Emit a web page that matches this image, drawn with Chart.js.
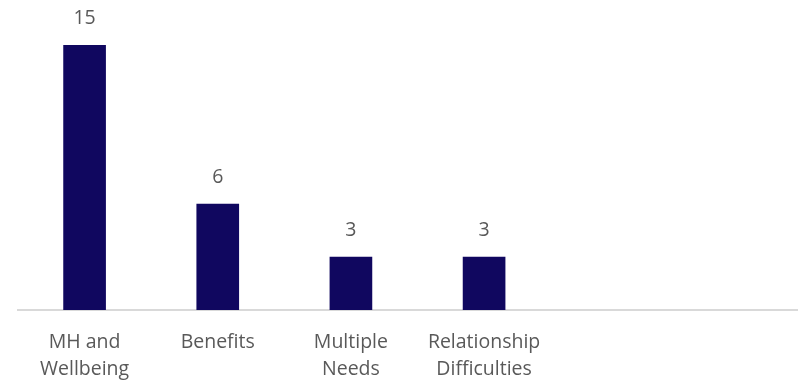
<!DOCTYPE html>
<html>
<head>
<meta charset="utf-8">
<script src="https://cdn.jsdelivr.net/npm/chart.js@4.4.0/dist/chart.umd.min.js"></script>
<style>
  html, body { margin: 0; padding: 0; background: #fff; overflow: hidden; }
  #wrap { width: 798px; height: 381px; overflow: hidden; }
</style>
</head>
<body>
<div id="wrap"><canvas id="chart" width="817" height="381"></canvas></div>
<script>
// data
const categories = [["MH and", "Wellbeing"], "Benefits", ["Multiple", "Needs"], ["Relationship", "Difficulties"], "", ""];
const counts = [15, 6, 3, 3, null, null];

const textColor = "#595959";
const barColor = "#10075f";
const fontFamily = "'Open Sans'";

// value labels above the bars
const valueLabels = {
  id: "valueLabels",
  afterDatasetsDraw(chart) {
    const ctx = chart.ctx;
    const meta = chart.getDatasetMeta(0);
    ctx.save();
    ctx.fillStyle = textColor;
    ctx.font = "19.5px " + fontFamily;
    ctx.textAlign = "center";
    ctx.textBaseline = "middle";
    meta.data.forEach((bar, i) => {
      if (counts[i] == null) return;
      ctx.fillText(counts[i], bar.x, bar.y - 27);
    });
    ctx.restore();
  },
};

const chart = new Chart(document.getElementById("chart"), {
  type: "bar",
  data: {
    labels: categories,
    datasets: [
      {
        data: counts,
        backgroundColor: barColor,
        barThickness: 42,
      },
    ],
  },
  options: {
    responsive: false,
    animation: false,
    layout: { padding: { top: 45, left: 18, right: 0, bottom: 0 } },
    plugins: { legend: { display: false }, tooltip: { enabled: false } },
    scales: {
      x: {
        grid: { display: false, drawTicks: false },
        border: { color: "#d9d9d9", width: 2 },
        afterFit(scale) {
          scale.height = 71;
        },
        ticks: {
          color: textColor,
          padding: 19,
          maxRotation: 0,
          autoSkip: false,
          font: { family: fontFamily, size: 19.5, lineHeight: "27px" },
        },
      },
      y: {
        display: false,
        min: 0,
        max: 15,
      },
    },
  },
  plugins: [valueLabels],
});
</script>
</body>
</html>
